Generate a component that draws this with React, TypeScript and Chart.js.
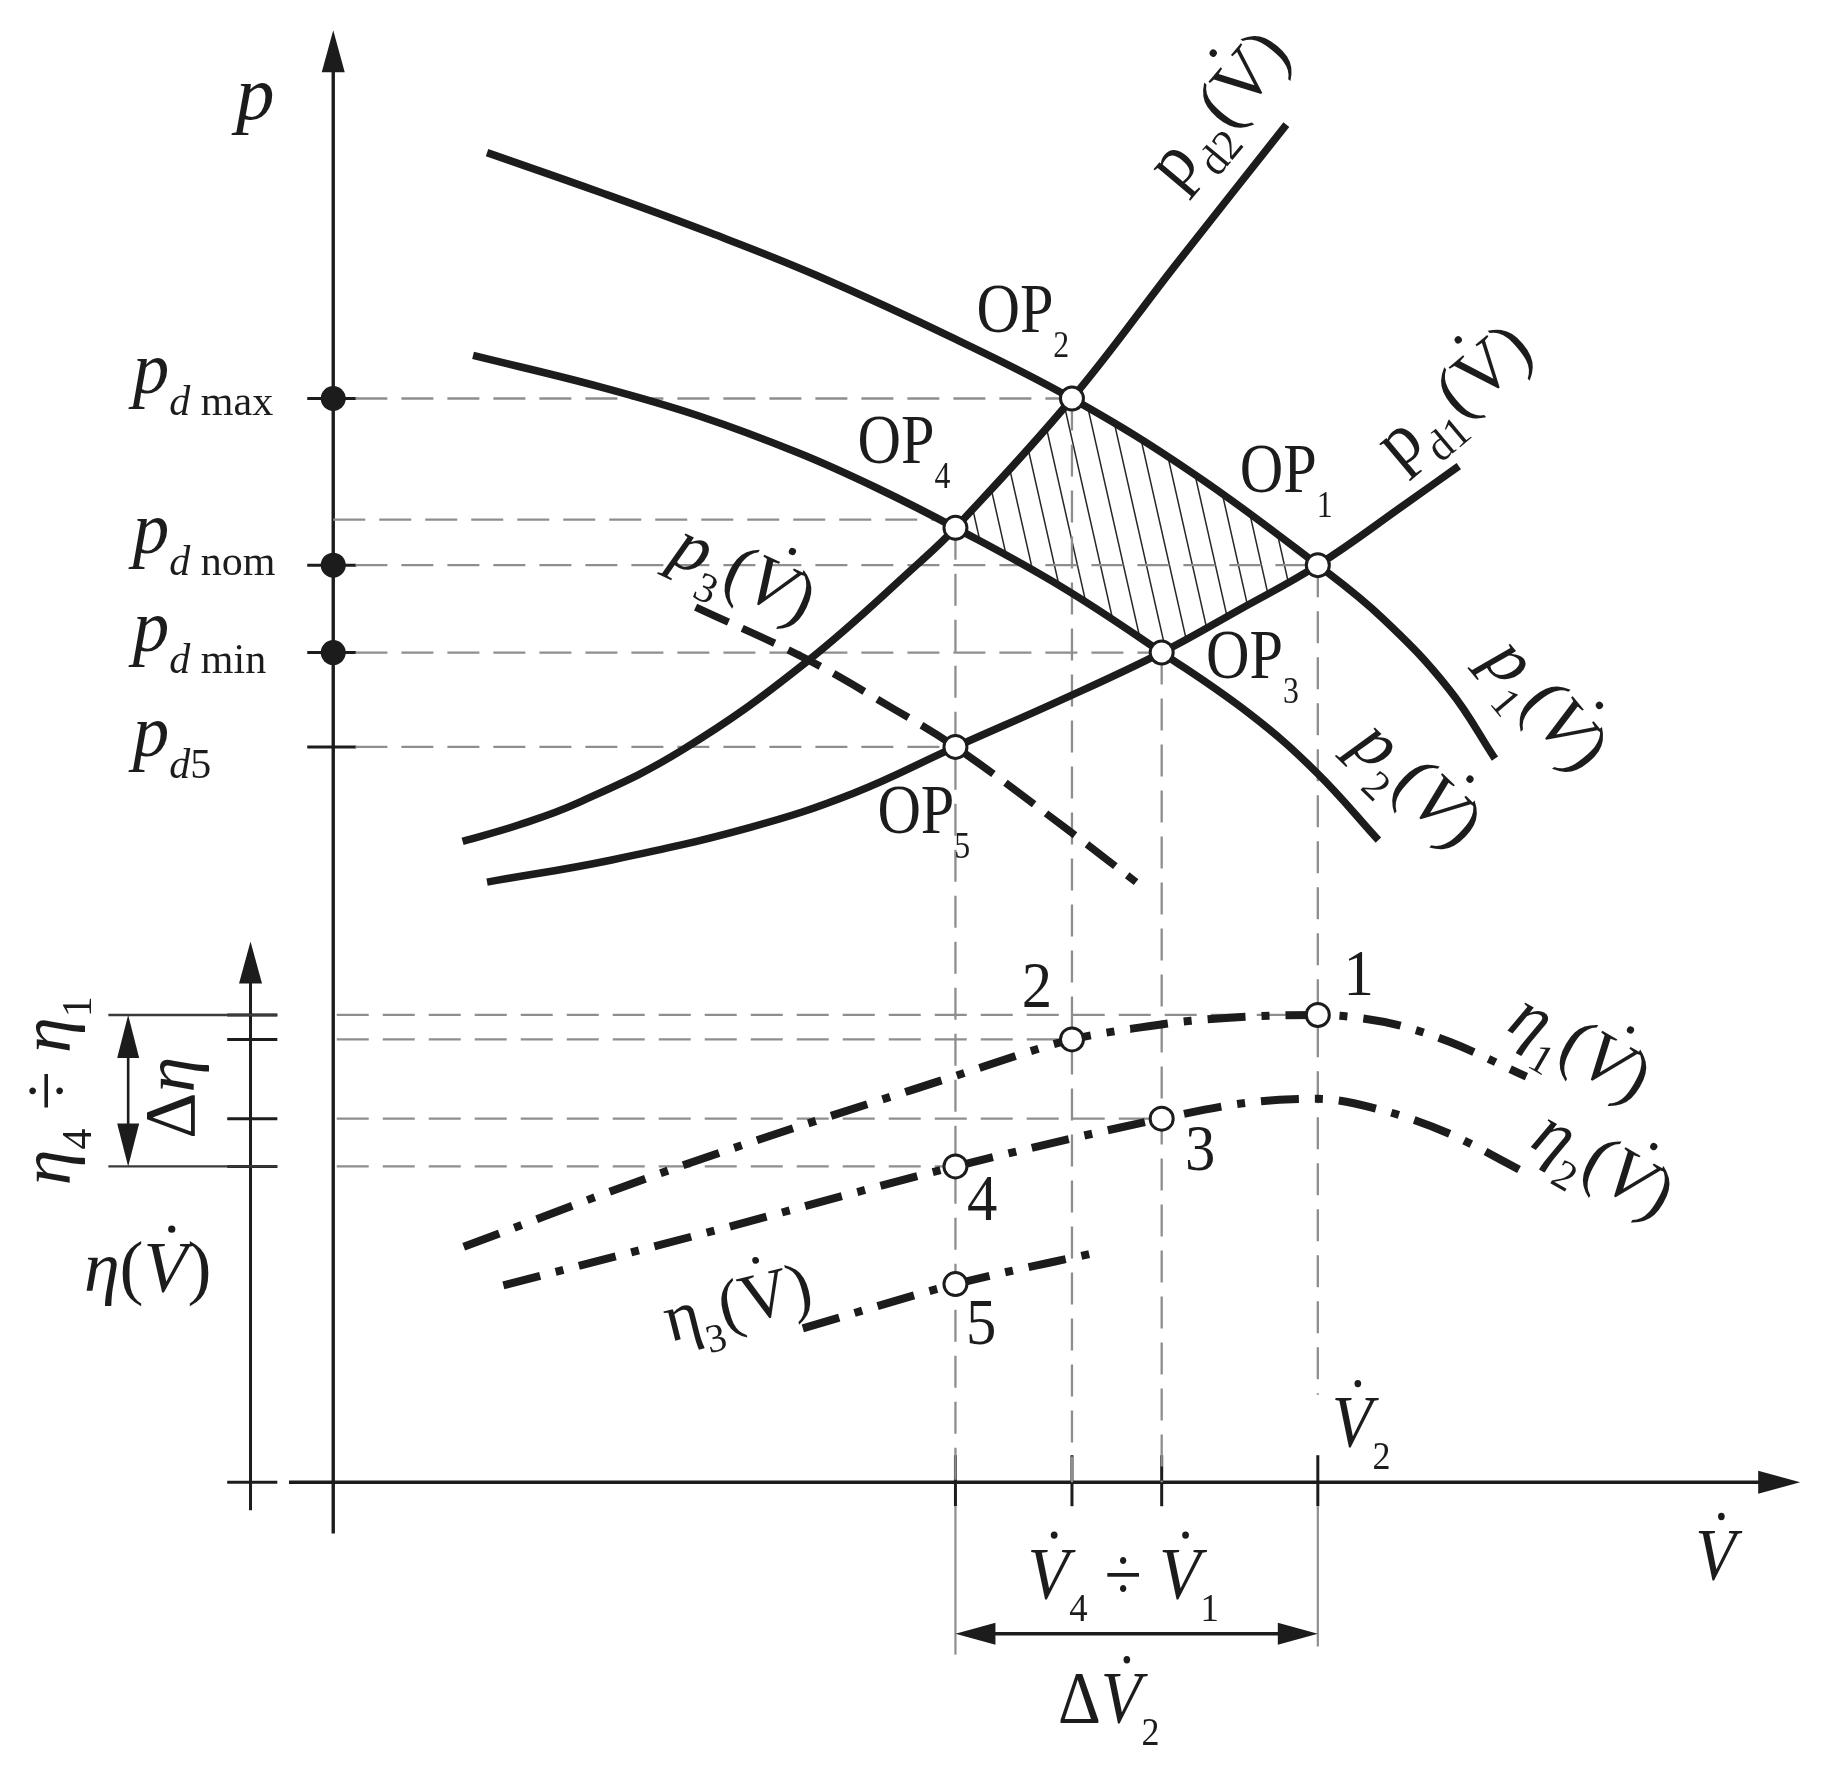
import React, { useEffect, useRef } from 'react';
import { Chart, registerables } from 'chart.js';

Chart.register(...registerables);

const CANVAS_W = 1827;
const CANVAS_H = 1791;
const INK = '#1c1c1c';
const GUIDE = '#8e8e8e';
const FAMILY = '"Liberation Serif", "Times New Roman", serif';

// ---------------- data (diagram units: volume flow V̇ to the right, p / η upwards) ----------------
const OP_NAMES = ['1', '2', '3', '4', '5'];
const OP_V = [84.5, 63.4, 71.1, 53.4, 53.4];
const OP_P = [78.7, 93.0, 71.2, 81.9, 63.1];

const ETA_NAMES = ['1', '2', '3', '4', '5'];
const ETA_V = [84.5, 63.4, 71.1, 53.4, 53.4];
const ETA_VAL = [40.1, 38.0, 31.2, 27.1, 17.0];

const P_LEVEL_NAMES = ['max', 'nom', 'min', '5'];
const P_LEVELS = [93.0, 78.7, 71.2, 63.1];
const P_LEVEL_DOT = [true, true, true, false];
const P_LEVEL_OP = [1, 0, 2, 4];
const P4_LEVEL = 82.6;

// pump characteristics p1(V̇), p2(V̇)
const P1_V = [13.2, 22.9, 32.4, 41.4, 53.4, 63.4, 73.9, 84.5, 90.1, 95.8, 99.7];
const P1_P = [114.1, 110.7, 107.2, 103.6, 98.1, 93.0, 86.5, 78.7, 74.1, 68.0, 62.1];
const P2_V = [12.0, 22.9, 31.4, 40.0, 46.7, 53.4, 62.4, 71.1, 78.7, 84.4, 89.7];
const P2_P = [96.7, 94.0, 91.5, 88.3, 85.3, 81.9, 76.9, 71.2, 65.9, 60.9, 55.1];
// system characteristics pd1(V̇), pd2(V̇), p3(V̇)
const PD1_V = [13.2, 23.9, 35.8, 44.6, 53.4, 62.4, 71.1, 77.8, 84.5, 92.1, 96.6];
const PD1_P = [51.5, 53.4, 56.2, 59.1, 63.1, 67.1, 71.2, 74.9, 78.7, 84.0, 87.2];
const PD2_V = [11.1, 15.9, 21.0, 29.9, 40.5, 50.5, 53.4, 63.4, 72.4, 81.8];
const PD2_P = [55.0, 56.4, 58.3, 62.8, 70.3, 79.1, 81.9, 93.0, 104.6, 116.5];
const P3_V = [31.1, 40.5, 48.2, 53.4, 62.9, 68.9];
const P3_P = [75.1, 70.7, 66.3, 63.1, 56.1, 51.5];
// efficiency curves
const ETA1_V = [11.2, 28.9, 53.2, 63.4, 68.4, 73.6, 79.4, 84.5, 88.4, 91.5, 95.8, 102.4];
const ETA1 = [20.2, 26.8, 34.8, 38.0, 38.9, 39.6, 40.0, 40.1, 39.8, 39.2, 37.8, 34.8];
const ETA2_V = [14.6, 32.0, 53.4, 71.1, 78.7, 84.5, 90.1, 95.8, 102.4];
const ETA2 = [16.9, 21.4, 27.1, 31.2, 32.6, 32.9, 31.9, 29.9, 26.5];
const ETA3_V = [40.3, 53.4, 65.9];
const ETA3 = [13.2, 17.0, 19.8];

// ---------------- layout (positions in diagram units) ----------------
const V_MIN = -28.6, V_MAX = 128.2, Y_MIN = -26.5, Y_MAX = 127.2;
const AX = {
  pTop: 124.6, pBottom: -4.4, vLeft: -3.8, vRight: 125.9,
  etaX: -7.1, etaTop: 46.4, etaBottom: -2.4, etaTickL: -9.1, etaTickR: -4.8,
  etaBarL: -19.3, dEtaX: -17.6, dimY: -13.0, dimEnd4: -14.8, dimEnd1: -14.1,
  guideStart: 1.9, v2GuideEnd: 7.5,
};
const P_LABEL_X = -17.2;
const P_LABEL_Y = [93.5, 79.7, 71.3, 62.3];
const OP_LABEL_AT = [[77.8, 85.0], [55.2, 98.7], [74.9, 69.0], [45.0, 87.5], [46.7, 55.7]];
const ETA_LABEL_AT = [[88.0, 41.8], [60.4, 40.8], [74.4, 26.8], [55.7, 22.5], [55.6, 11.9]];

type Part = [string, string];
interface Lbl { parts: Part[]; at: number[]; F: number; S?: number; dy?: number; rot?: number; align?: 'left' | 'center'; mid?: boolean; sx?: number; }

const CURVE_LABELS: Lbl[] = [
  { parts: [['p', 'r'], ['d2', 'sr'], ['(', 'r'], ['V', 'rv'], [')', 'r']], at: [75.9, 117.9], F: 72, S: 43, rot: -50, align: 'center', mid: true },
  { parts: [['p', 'r'], ['d1', 'sr'], ['(', 'r'], ['V', 'rv'], [')', 'r']], at: [96.1, 93.3], F: 72, S: 43, rot: -40, align: 'center', mid: true },
  { parts: [['p', 'i'], ['1', 'sr'], ['(', 'r'], ['V', 'iv'], [')', 'r']], at: [104.2, 66.8], F: 72, S: 42, rot: 50, align: 'center', mid: true },
  { parts: [['p', 'i'], ['2', 'sr'], ['(', 'r'], ['V', 'iv'], [')', 'r']], at: [93.1, 60.0], F: 72, S: 42, rot: 44, align: 'center', mid: true },
  { parts: [['p', 'i'], ['3', 'sr'], ['(', 'r'], ['V', 'iv'], [')', 'r']], at: [35.3, 78.1], F: 72, S: 42, rot: 25, align: 'center', mid: true },
  { parts: [['η', 'i'], ['1', 'sr'], ['(', 'r'], ['V', 'iv'], [')', 'r']], at: [107.1, 37.4], F: 72, S: 42, rot: 30, align: 'center', mid: true },
  { parts: [['η', 'i'], ['2', 'sr'], ['(', 'r'], ['V', 'iv'], [')', 'r']], at: [109.1, 27.4], F: 72, S: 42, rot: 30, align: 'center', mid: true },
  { parts: [['η', 'r'], ['3', 'sr'], ['(', 'r'], ['V', 'rv'], [')', 'r']], at: [34.7, 15.4], F: 68, S: 40, rot: -14, align: 'center', mid: true },
];
const AXIS_LABELS: Lbl[] = [
  { parts: [['p', 'i']], at: [-6.7, 117.0], F: 77, align: 'center' },
  { parts: [['η', 'i'], ['(', 'r'], ['V', 'iv'], [')', 'r']], at: [-21.4, 16.4], F: 72 },
  { parts: [['η', 'i'], ['4', 'sr'], [' ÷ ', 'r'], ['η', 'i'], ['1', 'sr']], at: [-24.6, 33.6], F: 72, S: 42, rot: -90, align: 'center', mid: true },
  { parts: [['Δ', 'r'], ['η', 'i']], at: [-13.9, 33.0], F: 72, rot: -90, align: 'center', mid: true },
  { parts: [['V', 'iv'], ['2', 'sr']], at: [85.7, 3.0], F: 74, S: 40, dy: 22, sx: 0.9 },
  { parts: [['V', 'iv'], ['4', 'sr'], [' ÷ ', 'r'], ['V', 'iv'], ['1', 'sr']], at: [67.8, -10.0], F: 74, S: 40, dy: 22, align: 'center', sx: 0.92 },
  { parts: [['Δ', 'r'], ['V', 'iv'], ['2', 'sr']], at: [62.2, -20.7], F: 74, S: 40, dy: 22, sx: 0.9 },
  { parts: [['V', 'iv']], at: [116.9, -8.4], F: 74, sx: 0.9 },
];

// ---------------- drawing helpers ----------------
function drawRich(ctx: CanvasRenderingContext2D, X: (v: number) => number, Y: (v: number) => number, l: Lbl) {
  const F = l.F, S = l.S ?? Math.round(F * 0.56), dy = l.dy ?? F * 0.3;
  const fontOf = (st: string) => `${st.includes('i') ? 'italic ' : ''}${st.startsWith('s') ? S : F}px ${FAMILY}`;
  ctx.save();
  const widths = l.parts.map(([t, st]) => { ctx.font = fontOf(st); return ctx.measureText(t).width; });
  const total = widths.reduce((a, b) => a + b, 0);
  ctx.translate(X(l.at[0]), Y(l.at[1]));
  ctx.rotate(((l.rot ?? 0) * Math.PI) / 180);
  ctx.scale(l.sx ?? 1, 1);
  let cx = l.align === 'center' ? -total / 2 : 0;
  const by = l.mid ? F * 0.32 : 0;
  ctx.fillStyle = INK;
  ctx.textAlign = 'left';
  ctx.textBaseline = 'alphabetic';
  l.parts.forEach(([t, st], i) => {
    ctx.font = fontOf(st);
    const yy = by + (st.startsWith('s') ? dy : 0);
    ctx.fillText(t, cx, yy);
    if (st.endsWith('v')) {
      const fx = cx + widths[i] * (st.includes('i') ? 0.64 : 0.5);
      ctx.beginPath();
      ctx.arc(fx, yy - F * 0.86, F * 0.05, 0, Math.PI * 2);
      ctx.fill();
    }
    cx += widths[i];
  });
  ctx.restore();
}

function seg(ctx: CanvasRenderingContext2D, x1: number, y1: number, x2: number, y2: number, w: number, color = INK) {
  ctx.save();
  ctx.strokeStyle = color; ctx.lineWidth = w; ctx.setLineDash([]); ctx.lineCap = 'butt';
  ctx.beginPath(); ctx.moveTo(x1, y1); ctx.lineTo(x2, y2); ctx.stroke();
  ctx.restore();
}

function head(ctx: CanvasRenderingContext2D, tx: number, ty: number, dx: number, dy: number, len: number, half: number) {
  const bx = tx - dx * len, by = ty - dy * len, nx = -dy, ny = dx;
  ctx.save(); ctx.fillStyle = INK; ctx.beginPath();
  ctx.moveTo(tx, ty); ctx.lineTo(bx + nx * half, by + ny * half); ctx.lineTo(bx - nx * half, by - ny * half);
  ctx.closePath(); ctx.fill(); ctx.restore();
}

function curveAt(chart: any, label: string, px: number, xs: number[], ys: number[]): number | null {
  const sx = chart.scales.x, sy = chart.scales.y;
  const v = sx.getValueForPixel(px);
  if (v < xs[0] - 1e-6 || v > xs[xs.length - 1] + 1e-6) return null;
  const idx = chart.data.datasets.findIndex((d: any) => d.label === label);
  const line = idx >= 0 ? chart.getDatasetMeta(idx).dataset : null;
  if (line) {
    try {
      if (typeof line.updateControlPoints === 'function') line.updateControlPoints(chart.chartArea, 'x');
      const r = line.interpolate({ x: px }, 'x');
      const p = Array.isArray(r) ? r[0] : r;
      if (p && isFinite(p.y)) return p.y;
    } catch (e) { /* fall back */ }
  }
  for (let i = 0; i < xs.length - 1; i++) {
    if (v >= xs[i] && v <= xs[i + 1]) {
      const t = (v - xs[i]) / (xs[i + 1] - xs[i]);
      return sy.getPixelForValue(ys[i] + t * (ys[i + 1] - ys[i]));
    }
  }
  return null;
}

function drawHatch(chart: any, X: (v: number) => number, Y: (v: number) => number) {
  const ctx: CanvasRenderingContext2D = chart.ctx;
  const xa = X(OP_V[3]), xb = X(OP_V[0]);
  const top: number[][] = [], bot: number[][] = [];
  const xsamp: number[] = [];
  for (let px = xa; px < xb; px += 2) xsamp.push(px);
  xsamp.push(xb);
  xsamp.forEach((px) => {
    const cand = [curveAt(chart, 'pd2', px, PD2_V, PD2_P), curveAt(chart, 'p1', px, P1_V, P1_P)].filter((q) => q !== null) as number[];
    const cand2 = [curveAt(chart, 'p2', px, P2_V, P2_P), curveAt(chart, 'pd1', px, PD1_V, PD1_P)].filter((q) => q !== null) as number[];
    if (!cand.length || !cand2.length) return;
    top.push([px, Math.max(...cand)]);
    bot.push([px, Math.min(...cand2)]);
  });
  if (top.length < 2) return;
  ctx.save();
  ctx.beginPath();
  top.forEach(([x, y], i) => (i ? ctx.lineTo(x, y) : ctx.moveTo(x, y)));
  for (let i = bot.length - 1; i >= 0; i--) ctx.lineTo(bot[i][0], bot[i][1]);
  ctx.closePath();
  ctx.clip();
  const yMin = Y(OP_P[1]) - 10, yMax = Y(OP_P[2]) + 10;
  const slant = 0.226;
  ctx.strokeStyle = '#262626';
  ctx.lineWidth = 1.5;
  for (let c = xa - slant * (yMax - yMin) - 40; c < xb + 40; c += 23) {
    ctx.beginPath();
    ctx.moveTo(c, yMin);
    ctx.lineTo(c + slant * (yMax - yMin), yMax);
    ctx.stroke();
  }
  ctx.restore();
}

const diagramPlugin = {
  id: 'diagram',
  beforeDatasetsDraw(chart: any) {
    const ctx: CanvasRenderingContext2D = chart.ctx;
    const X = (v: number) => chart.scales.x.getPixelForValue(v);
    const Y = (v: number) => chart.scales.y.getPixelForValue(v);
    drawHatch(chart, X, Y);
    const x0 = X(0), y0 = Y(0);
    // p axis
    seg(ctx, x0, Y(AX.pBottom), x0, Y(AX.pTop) + 30, 3.4);
    head(ctx, x0, Y(AX.pTop), 0, -1, 42, 11.5);
    // V̇ axis
    seg(ctx, X(AX.vLeft), y0, X(AX.vRight) - 30, y0, 3.4);
    head(ctx, X(AX.vRight), y0, 1, 0, 42, 11.5);
    // η axis
    const ex = X(AX.etaX);
    seg(ctx, ex, Y(AX.etaBottom), ex, Y(AX.etaTop) + 30, 3);
    head(ctx, ex, Y(AX.etaTop), 0, -1, 42, 11.5);
    seg(ctx, X(AX.etaTickL), y0, X(AX.etaTickR), y0, 3);
    // pressure level ticks
    P_LEVELS.forEach((v) => seg(ctx, x0 - 26, Y(v), x0 + 23, Y(v), 3));
    // efficiency ticks and range bars
    ETA_VAL.slice(0, 4).forEach((v) => seg(ctx, X(AX.etaTickL), Y(v), X(AX.etaTickR), Y(v), 3));
    [ETA_VAL[0], ETA_VAL[3]].forEach((v) => seg(ctx, X(AX.etaBarL), Y(v), X(AX.etaTickR), Y(v), 2.4, '#3a3a3a'));
    const dx = X(AX.dEtaX), yt = Y(ETA_VAL[0]), yb = Y(ETA_VAL[3]);
    seg(ctx, dx, yt + 38, dx, yb - 38, 2.6);
    head(ctx, dx, yt, 0, -1, 43, 11);
    head(ctx, dx, yb, 0, 1, 43, 11);
    // flow ticks
    [OP_V[3], OP_V[1], OP_V[2], OP_V[0]].forEach((v) => seg(ctx, X(v), y0 - 27, X(v), y0 + 24, 3));
    // ΔV̇2 dimension
    seg(ctx, X(OP_V[3]), y0 + 24, X(OP_V[3]), Y(AX.dimEnd4), 2.2, GUIDE);
    seg(ctx, X(OP_V[0]), y0 + 24, X(OP_V[0]), Y(AX.dimEnd1), 2.2, GUIDE);
    const dimY = Y(AX.dimY);
    seg(ctx, X(OP_V[3]) + 36, dimY, X(OP_V[0]) - 36, dimY, 3.4);
    head(ctx, X(OP_V[3]), dimY, -1, 0, 40, 11);
    head(ctx, X(OP_V[0]), dimY, 1, 0, 40, 11);
  },
  afterDatasetsDraw(chart: any) {
    const ctx: CanvasRenderingContext2D = chart.ctx;
    const X = (v: number) => chart.scales.x.getPixelForValue(v);
    const Y = (v: number) => chart.scales.y.getPixelForValue(v);
    P_LEVEL_NAMES.forEach((n, i) => {
      drawRich(ctx, X, Y, {
        parts: [['p', 'i'], ['d', 'si'], [n.length > 1 ? ' ' + n : n, 'sr']],
        at: [P_LABEL_X, P_LABEL_Y[i]], F: 73, S: 42, dy: 22,
      });
    });
    OP_NAMES.forEach((n, i) => {
      drawRich(ctx, X, Y, { parts: [['OP', 'r'], [n, 'sr']], at: OP_LABEL_AT[i], F: 70, S: 37, dy: 25, sx: 0.86 });
    });
    ETA_NAMES.forEach((n, i) => {
      drawRich(ctx, X, Y, { parts: [[n, 'r']], at: ETA_LABEL_AT[i], F: 66, align: 'center', sx: 0.92 });
    });
    CURVE_LABELS.forEach((l) => drawRich(ctx, X, Y, l));
    AXIS_LABELS.forEach((l) => drawRich(ctx, X, Y, l));
  },
};

// ---------------- datasets ----------------
const pts = (xs: number[], ys: number[]) => xs.map((x, i) => ({ x, y: ys[i] }));
const DASHDOT = [38, 16, 8, 16];

function curve(label: string, xs: number[], ys: number[], extra: any = {}) {
  return {
    label, data: pts(xs, ys), showLine: true, borderColor: INK, borderWidth: 7.5, pointRadius: 0, pointHoverRadius: 0,
    tension: 0.4, fill: false, order: 5, borderCapStyle: 'butt', ...extra,
  };
}
function guide(x1: number, y1: number, x2: number, y2: number) {
  return {
    label: 'guide', data: [{ x: x1, y: y1 }, { x: x2, y: y2 }], showLine: true, borderColor: GUIDE, borderWidth: 2.3,
    borderDash: [32, 14], pointRadius: 0, pointHoverRadius: 0, tension: 0, fill: false, order: 10, borderCapStyle: 'butt',
  };
}

function buildDatasets() {
  const guides: any[] = [];
  P_LEVEL_OP.forEach((k, i) => guides.push(guide(AX.guideStart, P_LEVELS[i], OP_V[k], P_LEVELS[i])));
  guides.push(guide(0, P4_LEVEL, OP_V[3], P4_LEVEL));
  [0, 1, 2, 3].forEach((k) => guides.push(guide(OP_V[k], OP_P[k], OP_V[k], k === 0 ? AX.v2GuideEnd : 0)));
  [0, 1, 2, 3].forEach((k) => guides.push(guide(0.3, ETA_VAL[k], ETA_V[k], ETA_VAL[k])));
  const mono = { tension: 0, cubicInterpolationMode: 'monotone' };
  return [
    { label: 'OP', data: pts(OP_V, OP_P), showLine: false, pointRadius: 11.5, pointHoverRadius: 11.5, pointBorderWidth: 3, pointBackgroundColor: '#ffffff', pointBorderColor: INK, order: 0 },
    { label: 'eta points', data: pts(ETA_V, ETA_VAL), showLine: false, pointRadius: 11.5, pointHoverRadius: 11.5, pointBorderWidth: 3, pointBackgroundColor: '#ffffff', pointBorderColor: INK, order: 0 },
    { label: 'p levels', data: P_LEVELS.filter((_, i) => P_LEVEL_DOT[i]).map((y) => ({ x: 0, y })), showLine: false, pointRadius: 12.5, pointHoverRadius: 12.5, pointBorderWidth: 0, pointBackgroundColor: INK, order: 0 },
    curve('p1', P1_V, P1_P),
    curve('p2', P2_V, P2_P),
    curve('pd1', PD1_V, PD1_P),
    curve('pd2', PD2_V, PD2_P),
    curve('p3', P3_V, P3_P, { borderDash: [36, 15], borderWidth: 7.5 }),
    curve('eta1', ETA1_V, ETA1, { borderDash: DASHDOT, borderWidth: 8, ...mono }),
    curve('eta2', ETA2_V, ETA2, { borderDash: DASHDOT, borderWidth: 8, ...mono }),
    curve('eta3', ETA3_V, ETA3, { borderDash: DASHDOT, borderWidth: 8, ...mono }),
    ...guides,
  ];
}

export default function App() {
  const ref = useRef<HTMLCanvasElement>(null);
  useEffect(() => {
    document.body.style.margin = '0';
    document.body.style.background = '#ffffff';
    const canvas = ref.current;
    if (!canvas) return;
    const chart = new Chart(canvas, {
      type: 'scatter',
      data: { datasets: buildDatasets() as any },
      options: {
        responsive: false,
        animation: false,
        devicePixelRatio: 1,
        events: [],
        layout: { padding: 0, autoPadding: false },
        plugins: { legend: { display: false }, tooltip: { enabled: false } },
        scales: {
          x: { type: 'linear', min: V_MIN, max: V_MAX, display: false },
          y: { type: 'linear', min: Y_MIN, max: Y_MAX, display: false },
        },
      } as any,
      plugins: [diagramPlugin as any],
    });
    return () => chart.destroy();
  }, []);
  return (
    <div style={{ width: CANVAS_W, height: CANVAS_H, background: '#ffffff' }}>
      <canvas ref={ref} width={CANVAS_W} height={CANVAS_H} style={{ display: 'block' }} />
    </div>
  );
}
